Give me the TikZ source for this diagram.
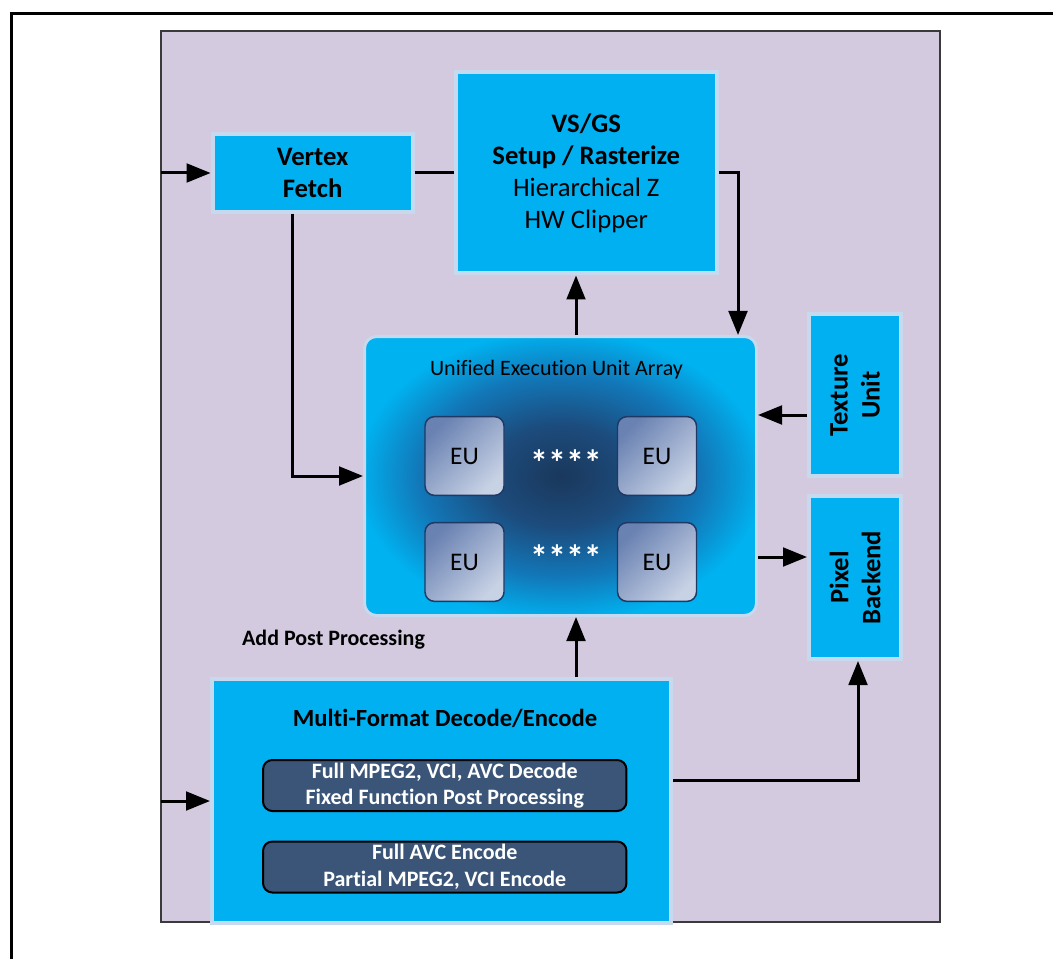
\documentclass[tikz,border=0pt]{standalone}
\usepackage{fontspec}
\setmainfont{Carlito}[Ligatures=NoCommon]
\usetikzlibrary{arrows.meta}
\definecolor{cyanbox}{HTML}{00B0F0}
\definecolor{lightb}{HTML}{C6D9EE}
\definecolor{panelfill}{HTML}{D3CAE0}
\definecolor{panelline}{HTML}{3A3A3A}
\definecolor{glowA}{HTML}{1A385C}
\definecolor{glowB}{HTML}{1C4B7C}
\definecolor{glowC}{HTML}{1277B8}
\definecolor{glowD}{HTML}{00B2F0}
\definecolor{eudark}{HTML}{6A82B2}
\definecolor{eulight}{HTML}{C8D2E5}
\definecolor{euline}{HTML}{1F3864}
\definecolor{slate}{HTML}{3A5577}
\pgfdeclareradialshading{euglow}{\pgfpoint{0bp}{0bp}}{color(0bp)=(glowA); color(9bp)=(glowB); color(18bp)=(glowC); color(26bp)=(glowD); color(50bp)=(glowD)}
\begin{document}
\begin{tikzpicture}[x=0.75pt,y=-0.75pt,
  box/.style={fill=cyanbox, draw=lightb, line width=3pt, inner sep=0pt, align=center,
              font=\fontsize{20}{24}\selectfont},
  eubox/.style={draw=euline, line width=1.1pt, rounded corners=7pt, top color=eudark,
              bottom color=eulight, shading angle=45, minimum width=59.25pt,
              minimum height=59pt, inner sep=0pt, font=\fontsize{19}{22}\selectfont},
  slatebox/.style={fill=slate, draw=black, line width=1.5pt, rounded corners=7pt,
              minimum width=272.6pt, inner sep=0pt, align=center, text=white,
              font=\bfseries\fontsize{16.5}{20}\selectfont},
  stars/.style={text=white, font=\bfseries\fontsize{27}{28}\selectfont},
  conn/.style={line width=2.25pt, -{Triangle[length=18pt,width=14pt]}},
  plain/.style={line width=2.25pt}]
\useasboundingbox (0,0) rectangle (1053,959);
\clip (0,0) rectangle (1053,959);
% outer frame
\draw[line width=2.25pt] (11,14) rectangle (1080,990);
% panel
\draw[fill=panelfill, draw=panelline, line width=1.1pt] (161,31) rectangle (940,922);

% nodes
\node[box, minimum width=150pt, minimum height=58.5pt] (vf) at (312.6,173)
  {\bfseries Vertex\\\bfseries Fetch};
\node[box, minimum width=196pt, minimum height=150.75pt] (vs) at (586.25,173)
  {\bfseries VS/GS\\\bfseries Setup / Rasterize\\Hierarchical Z\\HW Clipper};
\node[box, minimum width=69pt, minimum height=121.5pt] (tex) at (855,395) {};
\node[rotate=90, align=center, font=\bfseries\fontsize{20}{24}\selectfont] (texl) at (tex.center) {Texture\\Unit};
\node[box, minimum width=69pt, minimum height=122.25pt] (pix) at (855,577.5) {};
\node[rotate=90, align=center, font=\bfseries\fontsize{20}{24}\selectfont] (pixl) at (pix.center) {Pixel\\Backend};

\node[draw=lightb, line width=2.25pt, rounded corners=9pt, shading=euglow,
      minimum width=294pt, minimum height=209.25pt, inner sep=0pt] (eua) at (560.5,476) {};
\node[font=\fontsize{16.5}{20}\selectfont] (ual) at (556.5,370) {Unified Execution Unit Array};
\node[eubox] (eu1) at (464.5,456) {EU};
\node[eubox] (eu2) at (657,456) {EU};
\node[eubox] (eu3) at (464.5,562) {EU};
\node[eubox] (eu4) at (657,562) {EU};
\node[stars] (st1) at (566,463) {****};
\node[stars] (st2) at (566,558) {****};

\node[font=\bfseries\fontsize{16.5}{20}\selectfont] (app) at (333.5,640) {Add Post Processing};

\node[box, minimum width=344.25pt, minimum height=183pt] (mf) at (441.5,801) {};
\node[font=\bfseries\fontsize{18.5}{22}\selectfont] (mft) at (445,718) {Multi-Format Decode/Encode};
\node[slatebox, minimum height=38.25pt] (dec) at (444.75,785.5)
  {Full MPEG2, VCI, AVC Decode\\Fixed Function Post Processing};
\node[slatebox, minimum height=38.25pt] (enc) at (444.75,867)
  {Full AVC Encode\\Partial MPEG2, VCI Encode};

% helper coordinates
\coordinate (in1) at (161,173);
\coordinate (in2) at (161,801);
\coordinate (cx1) at (738,0);
\coordinate (cx2) at (292.7,0);
\coordinate (cx3) at (576,0);
\coordinate (cx4) at (858,0);
\coordinate (cy1) at (0,476);
\coordinate (cy2) at (0,415);
\coordinate (cy3) at (0,557);
\coordinate (cy4) at (0,780);

% connectors
\draw[conn] (in1) -- (vf.west);
\draw[plain] (vf.east) -- (vs.west);
\draw[conn] (vs.east) -| (cx1 |- eua.north);
\draw[conn] (cx2 |- vf.south) |- (eua.west |- cy1);
\draw[conn] (cx3 |- eua.north) -- (cx3 |- vs.south);
\draw[conn] (cy2 -| tex.west) -- (cy2 -| eua.east);
\draw[conn] (cy3 -| eua.east) -- (cy3 -| pix.west);
\draw[conn] (cx3 |- mf.north) -- (cx3 |- eua.south);
\draw[conn] (in2) -- (mf.west);
\draw[conn] (cy4 -| mf.east) -| (cx4 |- pix.south);
\end{tikzpicture}
\end{document}
